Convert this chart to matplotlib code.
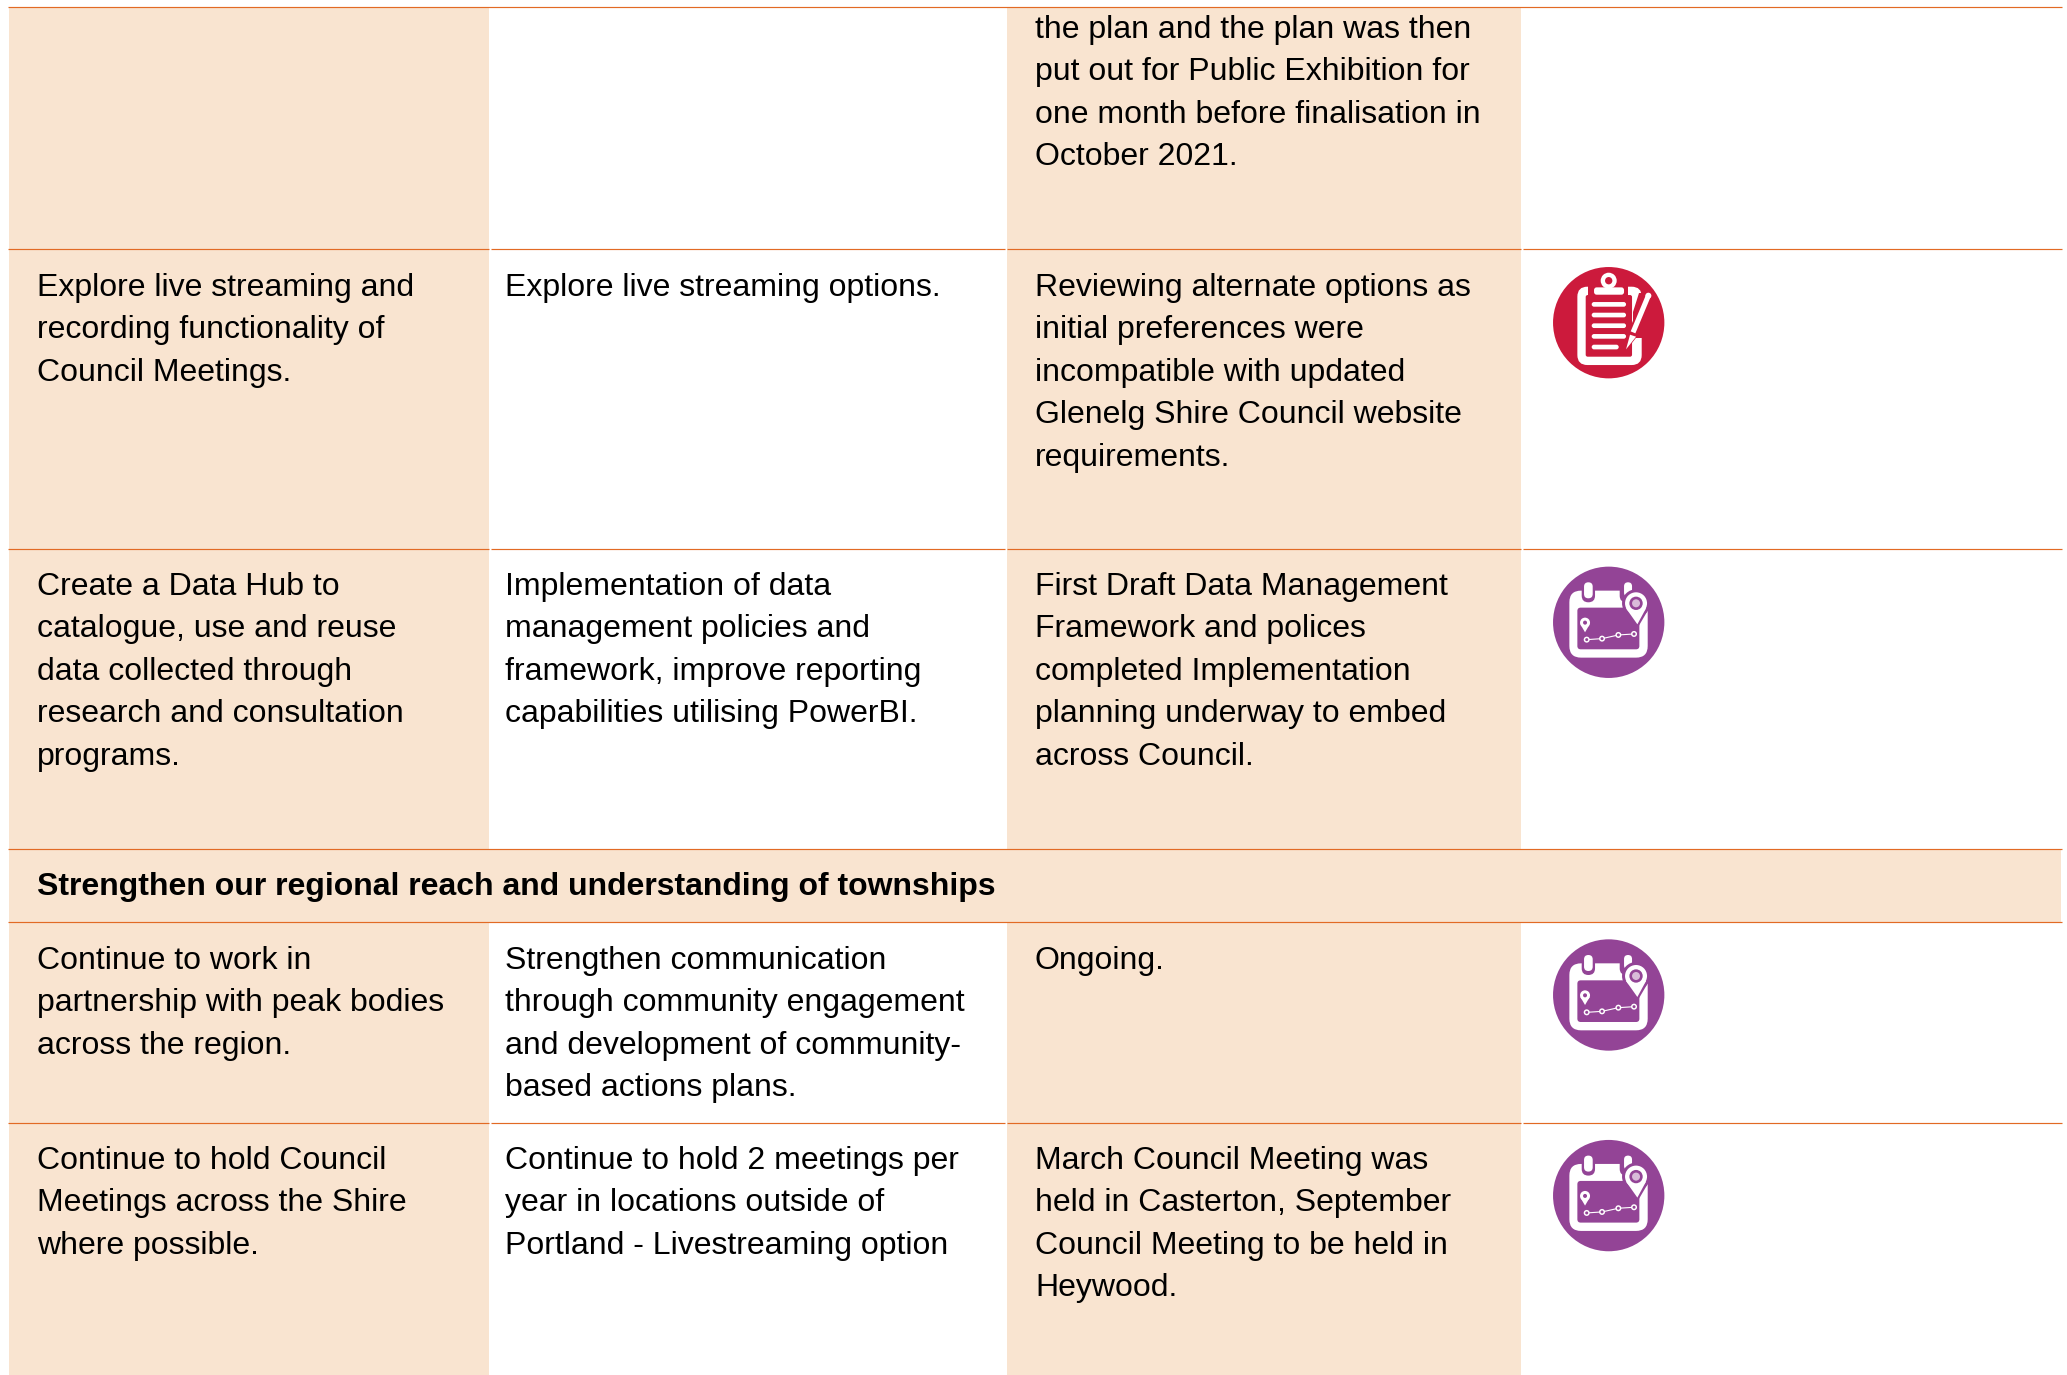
"""Action plan table: shaded columns, ruled rows, wrapped text and status icons."""
import matplotlib
matplotlib.use("Agg")
import matplotlib.pyplot as plt
from matplotlib.patches import Circle, FancyBboxPatch, Polygon, Rectangle

plt.rcParams["font.family"] = ["Liberation Sans", "DejaVu Sans"]

WIDTH, HEIGHT = 2067, 1375
SHADE = "#F9E4D0"
RULE = "#E26A24"
RED = "#CC1A3C"
PURPLE = "#934496"
FONT_PT = 23.0
LINE_H = 42.4

# row contents, one list of wrapped lines per cell
row0_col3 = ["the plan and the plan was then", "put out for Public Exhibition for",
             "one month before finalisation in", "October 2021."]
row1_col1 = ["Explore live streaming and", "recording functionality of", "Council Meetings."]
row1_col2 = ["Explore live streaming options."]
row1_col3 = ["Reviewing alternate options as", "initial preferences were",
             "incompatible with updated", "Glenelg Shire Council website", "requirements."]
row2_col1 = ["Create a Data Hub to", "catalogue, use and reuse", "data collected through",
             "research and consultation", "programs."]
row2_col2 = ["Implementation of data", "management policies and", "framework, improve reporting",
             "capabilities utilising PowerBI."]
row2_col3 = ["First Draft Data Management", "Framework and polices", "completed Implementation",
             "planning underway to embed", "across Council."]
section_title = "Strengthen our regional reach and understanding of townships"
row3_col1 = ["Continue to work in", "partnership with peak bodies", "across the region."]
row3_col2 = ["Strengthen communication", "through community engagement",
             "and development of community-", "based actions plans."]
row3_col3 = ["Ongoing."]
row4_col1 = ["Continue to hold Council", "Meetings across the Shire", "where possible."]
row4_col2 = ["Continue to hold 2 meetings per", "year in locations outside of",
             "Portland - Livestreaming option"]
row4_col3 = ["March Council Meeting was", "held in Casterton, September",
             "Council Meeting to be held in", "Heywood."]

# (first baseline, cells, icon name, icon centre y)
rows = [
    (38, [[], [], row0_col3], None, None),
    (296, [row1_col1, row1_col2, row1_col3], "clipboard", 322.7),
    (595, [row2_col1, row2_col2, row2_col3], "calendar", 622.3),
    (969, [row3_col1, row3_col2, row3_col3], "calendar", 995),
    (1169, [row4_col1, row4_col2, row4_col3], "calendar", 1195.6),
]
col_text_x = [37, 505, 1035]

fig = plt.figure(figsize=(WIDTH / 100, HEIGHT / 100), dpi=100, facecolor="white")
ax = fig.add_axes([0, 0, 1, 1])
ax.set_xlim(0, WIDTH)
ax.set_ylim(HEIGHT, 0)
ax.axis("off")


def rounded(x0, y0, x1, y1, r, color, cx, cy, s=1 / 3):
    ax.add_patch(FancyBboxPatch((cx + x0 * s + r * s, cy + y0 * s + r * s),
                                (x1 - x0 - 2 * r) * s, (y1 - y0 - 2 * r) * s,
                                boxstyle=f"round,pad={r * s},rounding_size={r * s}",
                                fc=color, ec="none", zorder=5))


def poly(pts, color, cx, cy, s=1 / 3):
    ax.add_patch(Polygon([(cx + x * s, cy + y * s) for x, y in pts], closed=True,
                         fc=color, ec="none", zorder=5))


def disc(x, y, r, color, cx, cy, s=1 / 3):
    ax.add_patch(Circle((cx + x * s, cy + y * s), r * s, fc=color, ec="none", zorder=5))


def draw_clipboard(cx, cy):
    disc(0, 0, 167, RED, cx, cy)
    rounded(-94, -108, 99, 127, 30, "white", cx, cy)
    rounded(-69, -83, 70, 102, 6, RED, cx, cy)
    poly([(-61, -118), (59, -118), (59, -70), (-61, -70)], RED, cx, cy)
    poly([(92, -88), (110, -88), (110, 47), (72, 47), (72, -33)], RED, cx, cy)
    # clip on top of the board
    rounded(-44, -106, 46, -84, 8, "white", cx, cy)
    disc(0, -126, 24, "white", cx, cy)
    disc(0, -126, 11, RED, cx, cy)
    for dy in (-55, -23, 9, 41):
        rounded(-51, dy - 7, 52, dy + 7, 7, "white", cx, cy)
    rounded(-51, 66, 30, 80, 7, "white", cx, cy)
    # pencil
    poly([(108, -90), (132, -78), (86, 40), (52, 84), (56, 34)], RED, cx, cy)
    poly([(112, -84), (126, -78), (80, 32), (66, 26)], "white", cx, cy)
    disc(119, -81, 9, "white", cx, cy)
    poly([(64, 36), (82, 42), (52, 80)], "white", cx, cy)


def draw_calendar(cx, cy):
    disc(0, 0, 167, PURPLE, cx, cy)
    rounded(-118, -95, 117, 106, 35, "white", cx, cy)
    rounded(-94, -44, 92, 81, 10, PURPLE, cx, cy)
    # binder pegs
    rounded(-81, -130, -41, -60, 20, PURPLE, cx, cy)
    rounded(33, -130, 77, -60, 20, PURPLE, cx, cy)
    rounded(-74, -120, -48, -72, 13, "white", cx, cy)
    rounded(46, -120, 70, -77, 12, "white", cx, cy)
    # large location pin
    disc(82, -57, 42, PURPLE, cx, cy)
    poly([(44, -40), (120, -40), (86, 18), (78, 18)], PURPLE, cx, cy)
    poly([(52, -42), (112, -42), (86, 6)], "white", cx, cy)
    disc(82, -57, 33, "white", cx, cy)
    disc(82, -57, 20, PURPLE, cx, cy)
    disc(82, -57, 12, "#D9BBD9", cx, cy)
    # small pin
    poly([(-85, 6), (-57, 6), (-71, 30)], "white", cx, cy)
    disc(-71, 1, 15, "white", cx, cy)
    disc(-71, 1, 6, PURPLE, cx, cy)
    # small route line
    route = [(-66, 52), (-20, 49), (29, 38), (76, 35)]
    ax.plot([cx + x / 3 for x, _ in route], [cy + y / 3 for _, y in route],
            color="white", lw=0.8, zorder=5)
    for x, y in route:
        disc(x, y, 9, "white", cx, cy)
        disc(x, y, 4.5, PURPLE, cx, cy)


# column and section shading
ax.add_patch(Rectangle((9, 7), 480, HEIGHT - 7, fc=SHADE, ec="none", zorder=1))
ax.add_patch(Rectangle((1007, 7), 514, HEIGHT - 7, fc=SHADE, ec="none", zorder=1))
ax.add_patch(Rectangle((9, 849), 2052, 73, fc=SHADE, ec="none", zorder=1))

# rules: full rows have small breaks at the column edges
for y in (7, 849, 922):
    ax.plot([8, 2062], [y, y], color=RULE, lw=0.85, zorder=3, solid_capstyle="butt")
for y in (249, 549, 1123):
    for x0, x1 in ((8, 489), (491, 1005), (1007, 1521), (1523, 2062)):
        ax.plot([x0, x1], [y, y], color=RULE, lw=0.85, zorder=3, solid_capstyle="butt")

for first_baseline, cells, icon, icon_y in rows:
    for x, lines in zip(col_text_x, cells):
        for i, line in enumerate(lines):
            ax.text(x, first_baseline + i * LINE_H, line, fontsize=FONT_PT, color="black",
                    va="baseline", ha="left", zorder=4)
    if icon == "clipboard":
        draw_clipboard(1608.7, icon_y)
    elif icon == "calendar":
        draw_calendar(1608.7, icon_y)

ax.text(37, 895, section_title, fontsize=FONT_PT, fontweight="bold", color="black",
        va="baseline", ha="left", zorder=4)

fig.savefig("out.png", dpi=100, facecolor="white")
